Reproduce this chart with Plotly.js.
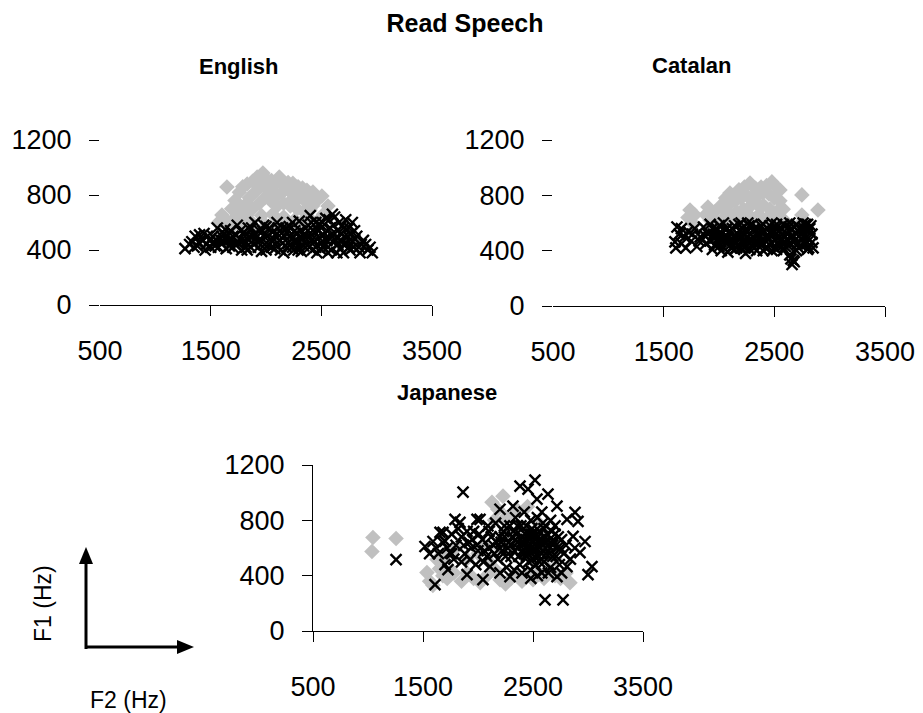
<!DOCTYPE html>
<html>
<head>
<meta charset="utf-8">
<script src="https://cdn.plot.ly/plotly-3.0.1.min.js"></script>
<style>html,body{margin:0;padding:0;background:#fff;}#chart{width:923px;height:713px;}</style>
</head>
<body>
<div id="chart"></div>
<script>
// ---------------- DATA ----------------
const chartTitle = "Read Speech";
const panelTitles = ["English", "Catalan", "Japanese"];
const xTickVals = [500, 1500, 2500, 3500];
const yTickVals = [0, 400, 800, 1200];
const xAxisName = "F2 (Hz)";
const yAxisName = "F1 (Hz)";

// English - grey diamonds
const engGreyF2 = [1647,1972,1566,1602,1640,1690,1720,1760,1790,1830,1880,1920,1950,2000,2050,2100,2150,2200,2243,2290,2330,2370,2424,2505,2460,2420,2397,2520,2480,1700,1750,1800,1850,1900,1950,2000,2050,2100,2150,2200,2250,2300,2350,2400,1820,1880,1940,1990,2040,2100,2160,2220,2280,2340,2380,1760,1860,1960,2060,2160,2260,2320,1900,2000,2100,2200,1680,1800,2300,2440,1740,2240,2560,2120,2060];
const engGreyF1 = [858,960,596,655,610,700,760,820,860,880,900,930,940,920,905,890,880,890,885,860,850,835,822,793,760,720,691,660,620,620,680,720,780,820,860,850,830,800,820,840,800,780,760,780,650,700,740,780,760,720,740,720,700,680,640,600,610,650,660,640,620,600,560,580,600,570,560,560,560,590,720,770,720,930,870];
// English - black crosses
const engBlackF2 = [1268,1330,1360,1380,1420,1440,1460,1490,1520,1540,1560,1580,1600,1620,1640,1660,1680,1700,1720,1740,1760,1780,1800,1820,1840,1860,1880,1900,1920,1940,1960,1980,2000,2020,2040,2060,2080,2100,2120,2140,2160,2180,2200,2220,2240,2260,2280,2300,2320,2340,2360,2380,2400,2420,2440,2460,2480,2500,2520,2540,2560,2580,2600,2620,2640,2660,2680,2700,2720,2740,2760,2780,2800,2840,2880,2920,2960,2900,1400,1500,1650,1750,1850,1950,2050,2150,2250,2350,2450,2550,2650,2750,2850,1550,1700,1900,2000,2100,2200,2300,2400,2500,2600,2700,2800,2700,2450,2620,2350,2150,1980,2420,2560,2680,2240,2060,1820,1600,1450,2520,2780,2580,2380,2480,2340,2260,
  1310,1350,1400,1470,1530,1570,1610,1630,1670,1690,1730,1770,1790,1810,1830,1870,1890,1910,1930,1970,1990,2010,2030,2070,2090,2110,2130,2170,2190,2210,2230,2270,2290,2310,2330,2370,2390,2410,2430,2470,2490,2510,2530,2550,2570,2590,2610,2630,2650,2670,2690,2710,2730,2750,2770,2790,2820,2860,2940];
const engBlackF1 = [410,460,500,430,480,520,440,470,500,430,560,480,450,520,410,470,540,500,440,580,480,400,530,460,560,420,500,600,460,540,390,500,570,440,480,530,410,600,470,520,380,560,450,500,420,540,470,610,390,500,560,440,650,480,530,380,590,450,510,630,420,560,660,480,380,600,520,440,620,500,400,460,540,420,470,400,380,440,450,420,500,450,500,470,420,450,400,460,420,470,440,420,380,470,420,520,400,520,540,420,520,560,520,560,480,380,600,640,520,560,580,400,380,470,600,460,420,500,400,420,600,480,580,490,430,470,
  440,420,510,500,460,420,470,550,430,480,510,540,460,500,400,560,440,490,420,540,440,500,560,480,440,560,400,500,420,570,480,520,400,540,480,500,420,600,460,540,410,600,480,540,620,400,580,470,540,410,580,500,450,560,520,420,500,440,420];

// Catalan - grey diamonds
const catGreyF2 = [1738,1720,1760,1780,1900,1880,1920,1960,2010,2060,2099,2140,2180,2230,2280,2330,2380,2430,2478,2520,2551,2749,2894,2749,2740,2050,2100,2150,2200,2250,2300,2350,2400,2450,2500,2550,2580,2100,2160,2220,2280,2340,2400,2460,2520,2560,2120,2200,2280,2360,2440,2500,2300,2400,2200,1980,2600,2050];
const catGreyF1 = [694,640,600,660,716,660,620,680,720,780,817,800,840,860,889,850,860,870,897,860,839,803,694,658,600,700,740,760,780,800,790,800,820,810,780,760,700,650,680,700,720,740,730,700,680,640,620,640,650,660,640,620,600,600,600,600,610,640];
// Catalan - black crosses
const catBlackF2 = [1620,1602,1610,1640,1660,1690,1720,1750,1780,1800,1830,1860,1880,1900,1920,1940,1960,1980,2000,2020,2040,2060,2080,2100,2120,2140,2160,2180,2200,2220,2240,2260,2280,2300,2320,2340,2360,2380,2400,2420,2440,2460,2480,2500,2520,2540,2560,2580,2600,2620,2640,2660,2670,2650,2680,2700,2720,2740,2760,2780,2800,2820,2840,2850,1950,2050,2150,2250,2350,2450,2550,2650,2750,1990,2090,2190,2290,2390,2490,2590,2690,2790,2010,2110,2210,2310,2410,2510,2610,2710,2810,1970,2070,2170,2270,2370,2470,2570,2670,2770,2130,2230,2330,2430,2530,2630,2730,2830,1870,1820,1760,2000,2200,2400,2600,2800,
  1920,1940,1960,1980,2000,2020,2040,2060,2080,2100,2120,2140,2160,2180,2200,2220,2240,2260,2280,2300,2320,2340,2360,2380,2400,2420,2440,2460,2480,2500,2520,2540,2560,2580,2600,2620,2640,2660,2680,2700,2720,2740,2760,2780,2800,2820,2840,2650,2680,1660,1700];
const catBlackF1 = [571,463,420,520,450,500,540,470,560,430,500,570,450,520,590,410,490,560,430,520,600,460,390,540,480,580,420,510,600,450,380,540,480,590,420,520,460,580,400,500,560,440,600,480,410,540,470,590,430,520,370,300,330,560,470,590,420,520,600,450,550,480,520,420,520,500,460,500,560,480,500,450,480,460,470,550,440,460,530,510,530,500,580,420,560,500,540,560,480,450,420,540,560,440,580,500,520,430,510,560,500,420,460,420,460,570,560,580,510,470,520,490,490,540,460,590,
  470,560,440,510,580,400,480,550,500,440,560,410,500,590,420,520,480,600,410,470,560,400,520,440,590,420,500,580,400,540,590,440,560,400,580,440,600,500,570,400,540,440,500,590,410,560,460,340,320,560,420];

// Japanese - grey diamonds
const jpnGreyF2 = [1045,1036,1255,1536,1560,1590,1627,1650,1680,1720,1780,1850,1900,1960,2020,2080,2127,2227,2180,2150,2200,2250,2300,2350,2400,2450,2500,2550,2600,2650,2700,2750,2800,2836,2100,2000,1900,2200,2300,2400,2500,2600,2700,2250,2350,2450,2550,1800,1700,2150,2050];
const jpnGreyF1 = [676,575,669,422,360,330,516,450,400,380,420,360,420,380,350,400,931,975,880,800,371,340,380,420,360,400,371,420,380,440,400,380,420,349,500,560,520,600,700,750,650,600,520,820,880,900,780,600,550,450,620];
// Japanese - black crosses
const jpnBlackF2 = [1255,1864,2518,2382,2455,2636,2882,2909,2973,3036,3000,2609,2773,1518,1609,1727,1900,2045,1655,1791,2018,1682,1836,1991,2200,2318,2536,2718,2809,2864,2927,2809,2718,2291,2109,1927,1745,1591,1560,1620,1700,1760,1800,1850,1880,1920,1960,2000,2040,2080,2100,2140,2160,2180,2200,2220,2240,2260,2280,2300,2320,2340,2360,2380,2400,2420,2440,2460,2480,2500,2520,2540,2560,2580,2600,2620,2640,2660,2680,2700,2720,2740,2760,2780,2800,2840,2420,2440,2460,2480,2500,2520,2540,2560,2580,2600,2380,2400,2440,2500,2560,2600,2340,2300,2460,2520,2640,2680,2360,2420,2480,2580,2660,2700,2240,2200,2150,2100,2050,1980,1940,1900,1850,1780,1700,2580,2660,2760,2880,2330,2400,2480,2200,2540,
  2210,2230,2250,2270,2290,2310,2330,2350,2370,2390,2410,2430,2450,2470,2490,2510,2530,2550,2570,2590,2610,2630,2650,2670,2690,2710,2730,2750,2440,2460,2480,2500,2520,2540,2560,2400,2360,2600,2620,1640,1680,1720,1760,1820,1870,1950,2010,2060,2120,2170,1990,2090];
const jpnBlackF1 = [516,1004,1090,1047,1025,989,858,793,647,465,407,225,225,611,335,444,407,371,713,807,807,713,785,807,880,902,953,902,807,684,567,465,393,393,465,516,567,647,560,600,650,700,620,680,560,640,720,580,660,540,720,620,780,520,680,580,760,460,640,540,720,820,600,480,680,560,760,620,440,700,580,820,500,660,740,560,420,640,540,700,600,480,660,560,620,520,640,540,700,600,520,660,620,720,560,640,620,580,600,640,600,500,660,620,500,480,620,620,760,860,800,860,800,760,680,600,560,600,500,480,600,720,500,520,480,420,460,420,600,440,420,380,420,400,
  640,720,540,600,760,680,580,700,540,760,620,700,560,660,740,600,700,540,640,780,600,700,560,720,640,540,680,600,660,580,700,580,540,680,660,640,640,680,640,560,640,600,560,740,620,660,700,580,680,640,620,760];

// ---------------- LAYOUT HELPERS (pixel -> paper) ----------------
const W = 923, H = 713;
const fx = p => p / W;
const fy = p => 1 - p / H;
const FONT = "Liberation Sans, Arial, sans-serif";
const TICKSIZE = 27;

const grey = (x, y, xa, ya) => ({
  type: "scatter", mode: "markers", x: x, y: y, xaxis: xa, yaxis: ya,
  marker: {symbol: "diamond", size: 12, color: "#c0c0c0", line: {width: 0}},
  cliponaxis: false, hoverinfo: "skip", showlegend: false
});
const black = (x, y, xa, ya) => ({
  type: "scatter", mode: "markers", x: x, y: y, xaxis: xa, yaxis: ya,
  marker: {symbol: "x-thin-open", size: 11, color: "#000", line: {width: 2.4, color: "#000"}},
  cliponaxis: false, hoverinfo: "skip", showlegend: false
});

const data = [
  grey(engGreyF2, engGreyF1, "x", "y"),
  black(engBlackF2, engBlackF1, "x", "y"),
  grey(catGreyF2, catGreyF1, "x2", "y2"),
  black(catBlackF2, catBlackF1, "x2", "y2"),
  grey(jpnGreyF2, jpnGreyF1, "x3", "y3"),
  black(jpnBlackF2, jpnBlackF1, "x3", "y3"),
  // empty traces to activate overlay tick axes
  {type: "scatter", mode: "markers", x: [], y: [], xaxis: "x4", yaxis: "y", showlegend: false},
  {type: "scatter", mode: "markers", x: [], y: [], xaxis: "x5", yaxis: "y2", showlegend: false}
];

const baseX = (dom, anchor) => ({
  domain: dom, anchor: anchor, range: [500, 3500], tickvals: xTickVals,
  ticks: "", showline: true, linecolor: "#000", linewidth: 1,
  showgrid: false, zeroline: false, tickfont: {size: TICKSIZE, color: "#000", family: FONT},
  ticklabelstandoff: 22, fixedrange: true
});
const baseY = (dom, anchor, showLine) => ({
  domain: dom, anchor: anchor, range: [0, 1200], tickvals: yTickVals,
  ticks: "outside", ticklen: 10, tickwidth: 1, tickcolor: "#000",
  showline: showLine, linecolor: "#000", linewidth: 1,
  showgrid: false, zeroline: false, tickfont: {size: TICKSIZE, color: "#000", family: FONT},
  ticklabelstandoff: 12, fixedrange: true
});
const overlayTicks = (over, anchor) => ({
  overlaying: over, anchor: anchor, range: [500, 3500], tickvals: xTickVals.slice(1),
  ticks: "outside", ticklen: 10, tickwidth: 1, tickcolor: "#000",
  showticklabels: false, showline: false, showgrid: false, zeroline: false, fixedrange: true
});

const xJ = baseX([fx(313), fx(643)], "y3");
xJ.ticks = "outside"; xJ.ticklen = 10; xJ.tickwidth = 1; xJ.tickcolor = "#000";

const layout = {
  width: W, height: H,
  margin: {l: 0, r: 0, t: 0, b: 0},
  paper_bgcolor: "#fff", plot_bgcolor: "rgba(0,0,0,0)",
  font: {family: FONT, color: "#000"},
  showlegend: false,
  title: {text: "<b>" + chartTitle + "</b>", x: fx(465), xanchor: "center", y: fy(23), yanchor: "middle",
          font: {size: 25, family: FONT, color: "#000"}},
  xaxis: baseX([fx(100), fx(432)], "y"),
  yaxis: baseY([fy(305), fy(140)], "x", false),
  xaxis2: baseX([fx(553), fx(885)], "y2"),
  yaxis2: baseY([fy(306), fy(140)], "x2", false),
  xaxis3: xJ,
  yaxis3: baseY([fy(631), fy(465)], "x3", true),
  xaxis4: overlayTicks("x", "y"),
  xaxis5: overlayTicks("x2", "y2"),
  annotations: [
    {text: "<b>" + panelTitles[0] + "</b>", xref: "paper", yref: "paper", x: fx(238), y: fy(67), xanchor: "center", yanchor: "middle", showarrow: false, font: {size: 22, family: FONT}},
    {text: "<b>" + panelTitles[1] + "</b>", xref: "paper", yref: "paper", x: fx(691), y: fy(65), xanchor: "center", yanchor: "middle", showarrow: false, font: {size: 22, family: FONT}},
    {text: "<b>" + panelTitles[2] + "</b>", xref: "paper", yref: "paper", x: fx(447), y: fy(392), xanchor: "center", yanchor: "middle", showarrow: false, font: {size: 22, family: FONT}},
    {text: yAxisName, xref: "paper", yref: "paper", x: fx(43), y: fy(604), xanchor: "center", yanchor: "middle", textangle: -90, showarrow: false, font: {size: 23, family: FONT}},
    {text: xAxisName, xref: "paper", yref: "paper", x: fx(128), y: fy(700), xanchor: "center", yanchor: "middle", showarrow: false, font: {size: 23, family: FONT}}
  ],
  shapes: [
    {type: "line", xref: "paper", yref: "paper", x0: fx(86), x1: fx(86), y0: fy(649), y1: fy(560), line: {color: "#000", width: 3}},
    {type: "line", xref: "paper", yref: "paper", x0: fx(85), x1: fx(180), y0: fy(647), y1: fy(647), line: {color: "#000", width: 3}},
    {type: "path", xref: "paper", yref: "paper", fillcolor: "#000", line: {width: 0},
     path: "M" + fx(86) + "," + fy(547) + " L" + fx(79) + "," + fy(564) + " L" + fx(93) + "," + fy(564) + " Z"},
    {type: "path", xref: "paper", yref: "paper", fillcolor: "#000", line: {width: 0},
     path: "M" + fx(194) + "," + fy(647) + " L" + fx(177) + "," + fy(640) + " L" + fx(177) + "," + fy(654) + " Z"}
  ]
};

Plotly.newPlot("chart", data, layout, {displayModeBar: false, staticPlot: true});
</script>
</body>
</html>
